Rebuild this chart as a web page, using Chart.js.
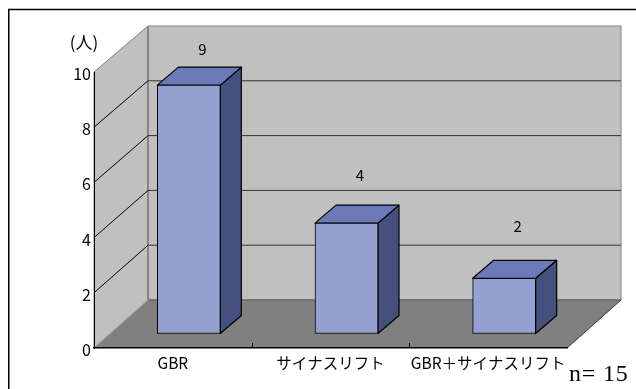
<!DOCTYPE html>
<html><head><meta charset="utf-8">
<style>html,body{margin:0;padding:0;background:#fff}canvas{display:block}</style>
<script src="https://cdn.jsdelivr.net/npm/chart.js@4"></script></head>
<body><canvas id="c" width="636" height="389"></canvas>
<script>
const categories = ['GBR', 'サイナスリフト', 'GBR＋サイナスリフト'];
const people = [9, 4, 2];
const yTicks = [0, 2, 4, 6, 8, 10];
const unitLabel = '(人)';
const sampleNote = 'n= 15';

const JP = '"Noto Sans CJK JP"';
const WALL = {dx: 54, dyTop: -46, dyBottom: -48};
const BAR_SHIFT = {dx: 16, dy: -14.5};
const BAR_DEPTH = {dx: 21, dy: -18};
const LABEL_LIFT = [36, 48, 52];

function poly(ctx, pts, fill, stroke, lw) {
  ctx.beginPath();
  pts.forEach((p, i) => i ? ctx.lineTo(p[0], p[1]) : ctx.moveTo(p[0], p[1]));
  ctx.closePath();
  if (fill) { ctx.fillStyle = fill; ctx.fill(); }
  if (stroke) { ctx.strokeStyle = stroke; ctx.lineWidth = lw || 1; ctx.stroke(); }
}
function line(ctx, x1, y1, x2, y2, c, lw) {
  ctx.beginPath(); ctx.moveTo(x1, y1); ctx.lineTo(x2, y2);
  ctx.strokeStyle = c; ctx.lineWidth = lw || 1; ctx.stroke();
}
function backDy(v) { return WALL.dyBottom + (WALL.dyTop - WALL.dyBottom) * v / 10; }

const scene = {
  id: 'scene',
  beforeDraw(chart) {
    const {ctx, chartArea: a, scales: {x, y}} = chart;
    ctx.save();
    ctx.strokeStyle = '#000'; ctx.lineWidth = 1.5;
    ctx.strokeRect(8.75, 9.5, 700, 500);
    const L = a.left, R = a.right, T = y.getPixelForValue(10), B = y.getPixelForValue(0);
    const dx = WALL.dx, bt = T + backDy(10), bb = B + backDy(0);
    poly(ctx, [[L,T],[L+dx,bt],[L+dx,bb],[L,B]], '#c0c0c0', '#808080', 1);
    poly(ctx, [[L+dx,bt],[R+dx,bt],[R+dx,bb],[L+dx,bb]], '#c0c0c0', '#808080', 1);
    poly(ctx, [[L,B],[R,B],[R+dx,bb],[L+dx,bb]], '#808080', null);
    line(ctx, L+dx, bb, R+dx, bb, '#6a6a6a', 1.5);
    line(ctx, L, B, L+dx, bb, '#a0a0a0', 1);
    line(ctx, R, B, R+dx, bb, '#333', 1);
    line(ctx, L+dx, bt, L+dx, bb, '#808080', 1.5);
    yTicks.filter(v => v > 0 && v < 10).forEach(v => {
      const py = y.getPixelForValue(v), by = py + backDy(v);
      line(ctx, L, py, L+dx, by, '#000', 1);
      line(ctx, L+dx, by, R+dx, by, '#333', 1);
    });
    for (let i = 0; i < categories.length - 1; i++) {
      const px = Math.round((x.getPixelForValue(i) + x.getPixelForValue(i + 1)) / 2) + .5;
      line(ctx, px, B, px, B - 5, '#000', 1);
    }
    ctx.restore();
  },
  beforeDatasetDraw(chart) {
    const ctx = chart.ctx;
    ctx.save();
    ctx.translate(BAR_SHIFT.dx, BAR_SHIFT.dy);
    const dx = BAR_DEPTH.dx, dy = BAR_DEPTH.dy;
    chart.getDatasetMeta(0).data.forEach(b => {
      const l = b.x - b.width / 2, r = b.x + b.width / 2;
      ctx.lineJoin = 'round';
      poly(ctx, [[r,b.y],[r+dx,b.y+dy],[r+dx,b.base+dy],[r,b.base]], '#45507f', '#000', 1.2);
      poly(ctx, [[l,b.y],[l+dx,b.y+dy],[r+dx,b.y+dy],[r,b.y]], '#6b79b9', '#000', 1.2);
    });
  },
  afterDatasetDraw(chart) { chart.ctx.restore(); },
  afterDraw(chart) {
    const {ctx} = chart;
    ctx.save();
    ctx.fillStyle = '#000';
    ctx.textAlign = 'center';
    ctx.textBaseline = 'middle';
    ctx.font = '15px ' + JP;
    chart.getDatasetMeta(0).data.forEach((b, i) => {
      ctx.fillText(String(people[i]), b.x + BAR_SHIFT.dx + 13.5, b.y + BAR_SHIFT.dy - LABEL_LIFT[i]);
    });
    ctx.font = '17px ' + JP;
    ctx.fillText(unitLabel, 84, 43);
    ctx.font = '24px "Liberation Serif"';
    ctx.letterSpacing = '0.8px';
    ctx.textAlign = 'left';
    ctx.fillText(sampleNote, 569, 375);
    ctx.restore();
  }
};

new Chart(document.getElementById('c'), {
  type: 'bar',
  data: {
    labels: categories,
    datasets: [{
      data: people,
      backgroundColor: '#949fd2',
      borderColor: '#000',
      borderWidth: 1,
      borderSkipped: false,
      barThickness: 63,
      clip: false
    }]
  },
  options: {
    responsive: false,
    animation: false,
    layout: {autoPadding: false, padding: {top: 72, right: 69, left: 0, bottom: 0}},
    plugins: {legend: {display: false}, tooltip: {enabled: false}, title: {display: false}},
    scales: {
      x: {
        grid: {display: false, drawTicks: false},
        border: {display: true, color: '#000', width: 1.5},
        ticks: {color: '#000', font: {family: JP, size: 15.5}, padding: 6, maxRotation: 0, autoSkip: false},
        afterFit(s) { s.height = 41; }
      },
      y: {
        min: 0, max: 10,
        grid: {display: false, drawTicks: false},
        border: {display: true, color: '#000', width: 1},
        afterBuildTicks(s) { s.ticks = yTicks.map(v => ({value: v})); },
        ticks: {color: '#000', font: {family: JP, size: 16}, padding: 3, labelOffset: 2},
        afterFit(s) { s.width = 94; }
      }
    }
  },
  plugins: [scene]
});
</script></body></html>
